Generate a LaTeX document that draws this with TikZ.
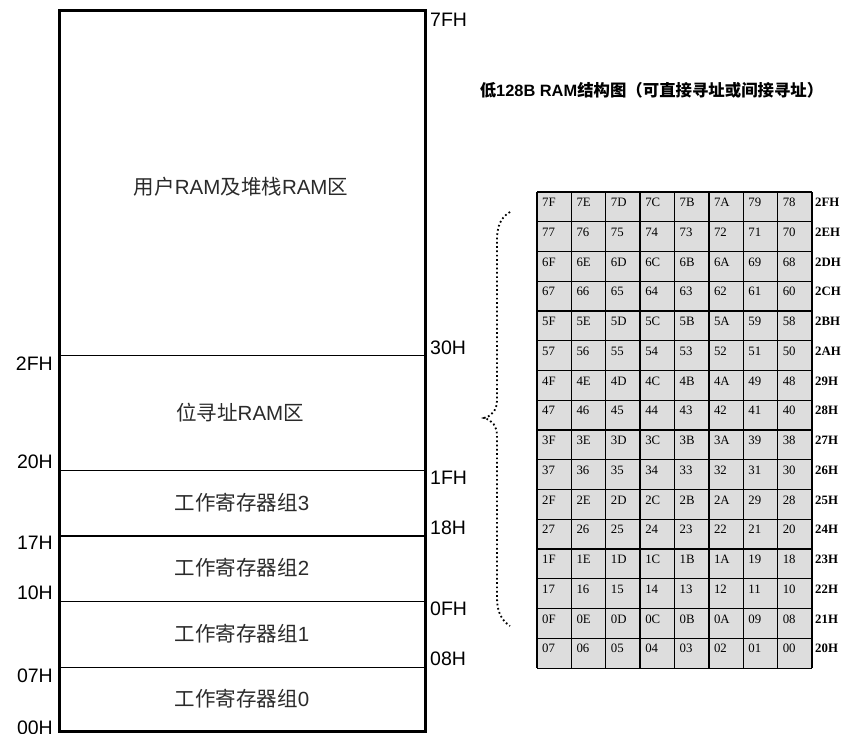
\documentclass[tikz,border=0pt]{standalone}
\usepackage{fontspec}
\setmainfont{Liberation Sans}
\newfontfamily\cjk{Noto Sans CJK SC}
\newfontfamily\tnr{Liberation Serif}
\definecolor{cellgray}{HTML}{DDDDDD}
\definecolor{regtext}{HTML}{2A2A2A}
\begin{document}
\begin{tikzpicture}[x=1pt,y=-1pt,
  addr/.style={inner sep=0pt,font=\fontsize{19.5}{20}\selectfont},
  region/.style={inner sep=0pt,text=regtext,font=\fontsize{20.5}{21}\selectfont},
  celltxt/.style={inner sep=0pt,anchor=base west,font=\tnr\fontsize{12.8}{13}\selectfont},
  rowlbl/.style={inner sep=0pt,anchor=base west,font=\tnr\bfseries\fontsize{12.8}{13}\selectfont},
  divider/.style={line width=1.3pt},
  bracedots/.style={line width=1.8pt,dash pattern=on 1.7pt off 2.6pt}]
\useasboundingbox (0,0) rectangle (842,733);

% ---- memory map ----
\draw[line width=3pt] (59,11) rectangle (425,731);
\foreach \yy in {355.7,470.7,536,601.7,667.3}
  \draw[divider] (59,\yy) -- (425,\yy);

\node[region] (user) at (241,187) {{\cjk 用户}RAM{\cjk 及堆栈}RAM{\cjk 区}};
\node[region] (bit) at (240,413) {{\cjk 位寻址}RAM{\cjk 区}};
\node[region] (g3) at (242,503) {{\cjk 工作寄存器组}3};
\node[region] (g2) at (242,568) {{\cjk 工作寄存器组}2};
\node[region] (g1) at (242,634) {{\cjk 工作寄存器组}1};
\node[region] (g0) at (242,699) {{\cjk 工作寄存器组}0};

% right addresses
\foreach \t/\yy in {7FH/20,30H/347,1FH/477,18H/527,0FH/608,08H/658}
  \node[addr,anchor=base west] (r\t) at (430,\yy+7) {\t};
% left addresses
\foreach \t/\yy in {2FH/363,20H/461,17H/542,10H/592,07H/675,00H/727}
  \node[addr,anchor=base east] (l\t) at (53,\yy+7) {\t};

% ---- title ----
\node[inner sep=0pt,font=\bfseries\fontsize{16.4}{17}\selectfont] (title) at (651.5,90)
  {{\cjk\bfseries 低}128B RAM{\cjk\bfseries 结构图（可直接寻址或间接寻址）}};

% ---- bit-addressable grid ----
\fill[cellgray] (537,192) rectangle (812,668);
\foreach \i in {0,...,15}
  \draw[line width=1.3pt] (537,192+\i*29.75) -- (812,192+\i*29.75);
\foreach \i in {0,...,7}
  \draw[line width=1.3pt] (537+\i*34.375,192) -- (537+\i*34.375,668);
\draw[line width=2pt] (812,192) -- (812,668);
\draw[line width=0.6pt] (537,668) -- (812,668);

\foreach \row [count=\r from 0] in {
  {7F,7E,7D,7C,7B,7A,79,78},{77,76,75,74,73,72,71,70},
  {6F,6E,6D,6C,6B,6A,69,68},{67,66,65,64,63,62,61,60},
  {5F,5E,5D,5C,5B,5A,59,58},{57,56,55,54,53,52,51,50},
  {4F,4E,4D,4C,4B,4A,49,48},{47,46,45,44,43,42,41,40},
  {3F,3E,3D,3C,3B,3A,39,38},{37,36,35,34,33,32,31,30},
  {2F,2E,2D,2C,2B,2A,29,28},{27,26,25,24,23,22,21,20},
  {1F,1E,1D,1C,1B,1A,19,18},{17,16,15,14,13,12,11,10},
  {0F,0E,0D,0C,0B,0A,09,08},{07,06,05,04,03,02,01,00}} {
  \foreach \v [count=\c from 0] in \row
    \node[celltxt] (cell-\r-\c) at (537+\c*34.375+5,192+\r*29.75+14.5) {\v};
}
\foreach \t [count=\r from 0] in {2FH,2EH,2DH,2CH,2BH,2AH,29H,28H,27H,26H,25H,24H,23H,22H,21H,20H}
  \node[rowlbl] (row-\r) at (815,192+\r*29.75+14.5) {\t};

% ---- dotted brace ----
\draw[bracedots] (510,212) .. controls (501,217) and (497,226) .. (497,240)
  -- (497,400) .. controls (497,410) and (492,416) .. (484,418)
  .. controls (492,420) and (497,426) .. (497,436)
  -- (497,598) .. controls (497,611) and (501,620) .. (510,626);
\end{tikzpicture}
\end{document}
